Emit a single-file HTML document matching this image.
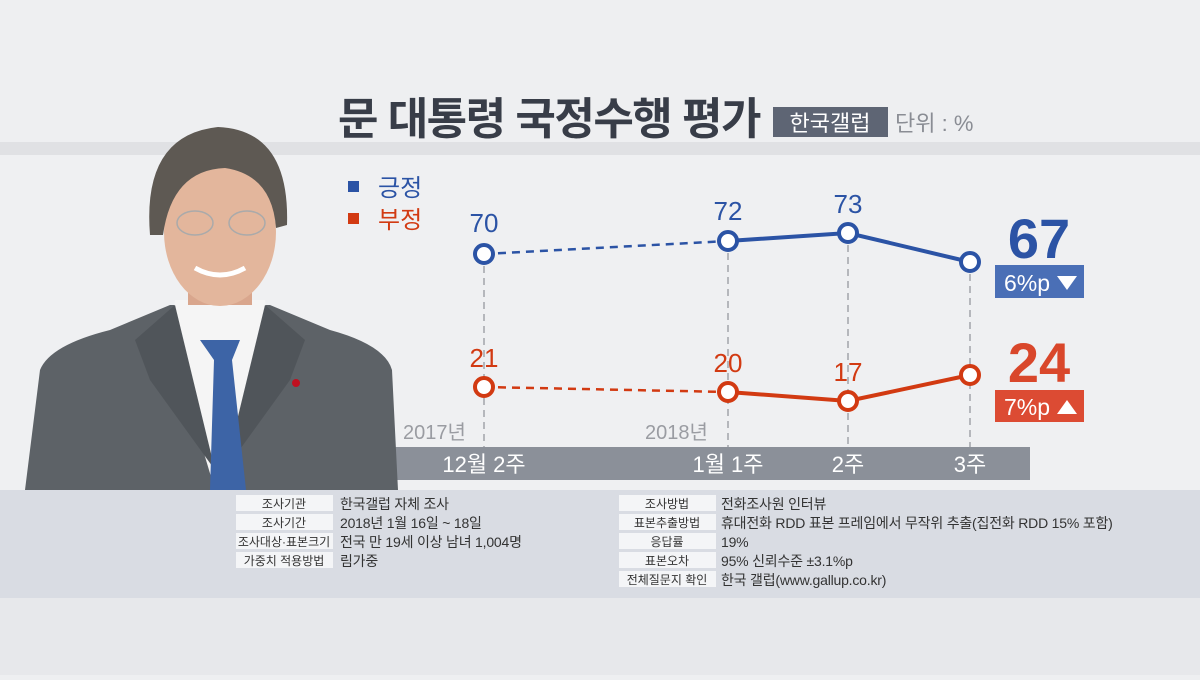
<!DOCTYPE html>
<html><head><meta charset="utf-8"><style>
body{margin:0;width:1200px;height:675px;overflow:hidden;background:#eeeff1;font-family:"Liberation Sans","Noto Sans CJK KR",sans-serif;}
</style></head><body>
<svg width="1200" height="675" xmlns="http://www.w3.org/2000/svg" font-family="Liberation Sans, Noto Sans CJK KR, sans-serif">
<rect width="1200" height="675" fill="#eeeff1"/>
<rect y="142" width="1200" height="13" fill="#e0e1e4"/>
<rect y="155" width="1200" height="335" fill="#eff0f2"/>
<rect y="490" width="1200" height="108" fill="#d9dce3"/>
<rect y="598" width="1200" height="77" fill="#e7e8eb"/>
<!-- title -->
<text x="338" y="134" font-size="44" font-weight="bold" fill="#383d48" letter-spacing="-1.5">문 대통령 국정수행 평가</text>
<rect x="773" y="107" width="115" height="30" fill="#5e6574"/>
<text x="830" y="131" font-size="22" fill="#fff" text-anchor="middle">한국갤럽</text>
<text x="895" y="131" font-size="22" fill="#8a8d94">단위 : %</text>
<!-- legend -->
<rect x="348" y="181" width="11" height="11" fill="#2b53a5"/>
<text x="378" y="196" font-size="24" fill="#2b53a5">긍정</text>
<rect x="348" y="213" width="11" height="11" fill="#d23a12"/>
<text x="378" y="228" font-size="24" fill="#d23a12">부정</text>
<!-- axis band -->
<rect x="395" y="447" width="635" height="33" fill="#8b9099"/>
<g font-size="22" fill="#fff" text-anchor="middle">
<text x="484" y="472">12월 2주</text><text x="728" y="472">1월 1주</text><text x="848" y="472">2주</text><text x="970" y="472">3주</text></g>
<text x="403" y="439" font-size="20" fill="#9a9ca2">2017년</text>
<text x="645" y="439" font-size="20" fill="#9a9ca2">2018년</text>
<!-- verticals -->
<g stroke="#b5b7bc" stroke-width="2" stroke-dasharray="7,5">
<line x1="484" y1="254" x2="484" y2="447"/><line x1="728" y1="241" x2="728" y2="447"/><line x1="848" y1="233" x2="848" y2="447"/><line x1="970" y1="262" x2="970" y2="447"/></g>
<!-- lines -->
<line x1="484" y1="254" x2="728" y2="241" stroke="#2b53a5" stroke-width="2.5" stroke-dasharray="8,6"/>
<polyline points="728,241 848,233 970,262" fill="none" stroke="#2b53a5" stroke-width="4"/>
<line x1="484" y1="387" x2="728" y2="392" stroke="#d23a12" stroke-width="2.5" stroke-dasharray="8,6"/>
<polyline points="728,392 848,401 970,375" fill="none" stroke="#d23a12" stroke-width="4"/>
<g fill="#fff" stroke="#2b53a5" stroke-width="4"><circle cx="484" cy="254" r="9"/><circle cx="728" cy="241" r="9"/><circle cx="848" cy="233" r="9"/><circle cx="970" cy="262" r="9"/></g>
<g fill="#fff" stroke="#d23a12" stroke-width="4"><circle cx="484" cy="387" r="9"/><circle cx="728" cy="392" r="9"/><circle cx="848" cy="401" r="9"/><circle cx="970" cy="375" r="9"/></g>
<g font-size="26" text-anchor="middle" fill="#2b53a5"><text x="484" y="232">70</text><text x="728" y="220">72</text><text x="848" y="213">73</text></g>
<g font-size="26" text-anchor="middle" fill="#d23a12"><text x="484" y="367">21</text><text x="728" y="372">20</text><text x="848" y="381">17</text></g>
<text x="1039" y="258" font-size="56" font-weight="bold" fill="#2b53a5" text-anchor="middle">67</text>
<rect x="995" y="265" width="89" height="33" fill="#4a6fb6"/>
<text x="1004" y="291" font-size="23" fill="#fff">6%p</text><polygon points="1057,276 1077,276 1067,290" fill="#fff"/>
<text x="1039" y="382" font-size="56" font-weight="bold" fill="#d9472b" text-anchor="middle">24</text>
<rect x="995" y="390" width="89" height="32" fill="#dc4b33"/>
<text x="1004" y="415" font-size="23" fill="#fff">7%p</text><polygon points="1057,414 1077,414 1067,400" fill="#fff"/>
<!-- photo -->
<g>
<path d="M25,490 L40,370 Q50,345 110,330 L170,305 L270,305 L330,330 Q385,345 392,370 L398,490 Z" fill="#5d6267"/>
<path d="M175,300 L265,300 L270,340 L225,490 L215,490 L170,340 Z" fill="#f5f5f5"/>
<path d="M175,305 L215,470 L150,380 L135,340 Z" fill="#50555a"/>
<path d="M265,305 L225,470 L290,380 L305,340 Z" fill="#50555a"/>
<path d="M200,340 L240,340 L232,360 L246,490 L210,490 L214,360 Z" fill="#3d64a6"/>
<circle cx="296" cy="383" r="4" fill="#c01020"/>
<rect x="188" y="280" width="64" height="25" fill="#d9a68d"/>
<ellipse cx="220" cy="232" rx="56" ry="74" fill="#e3b69c"/>
<path d="M150,235 Q142,135 218,127 Q290,130 287,225 L276,228 Q272,175 225,168 Q172,170 163,235 Z" fill="#5e5953"/>
<path d="M195,268 Q220,282 245,268" stroke="#fff" stroke-width="5" fill="none"/>
<g fill="none" stroke="#aaa" stroke-width="1.5"><ellipse cx="195" cy="223" rx="18" ry="12"/><ellipse cx="247" cy="223" rx="18" ry="12"/></g>
</g>
<!-- info -->
<g font-size="13" fill="#333">
<g fill="#f4f5f7"><rect x="236" y="495" width="97" height="16"/><rect x="236" y="514" width="97" height="16"/><rect x="236" y="533" width="97" height="16"/><rect x="236" y="552" width="97" height="16"/>
<rect x="619" y="495" width="97" height="16"/><rect x="619" y="514" width="97" height="16"/><rect x="619" y="533" width="97" height="16"/><rect x="619" y="552" width="97" height="16"/><rect x="619" y="571" width="97" height="16"/></g>
<g text-anchor="middle" font-size="12"><text x="284" y="508">조사기관</text><text x="284" y="527">조사기간</text><text x="284" y="546">조사대상·표본크기</text><text x="284" y="565">가중치 적용방법</text>
<text x="667" y="508">조사방법</text><text x="667" y="527">표본추출방법</text><text x="667" y="546">응답률</text><text x="667" y="565">표본오차</text><text x="667" y="584">전체질문지 확인</text></g>
<g font-size="14" letter-spacing="-0.2"><text x="340" y="509">한국갤럽 자체 조사</text><text x="340" y="528">2018년 1월 16일 ~ 18일</text><text x="340" y="547">전국 만 19세 이상 남녀 1,004명</text><text x="340" y="566">림가중</text>
<text x="721" y="509">전화조사원 인터뷰</text><text x="721" y="528">휴대전화 RDD 표본 프레임에서 무작위 추출(집전화 RDD 15% 포함)</text><text x="721" y="547">19%</text><text x="721" y="566">95% 신뢰수준 ±3.1%p</text><text x="721" y="585">한국 갤럽(www.gallup.co.kr)</text></g>
</g>
</svg>
</body></html>
